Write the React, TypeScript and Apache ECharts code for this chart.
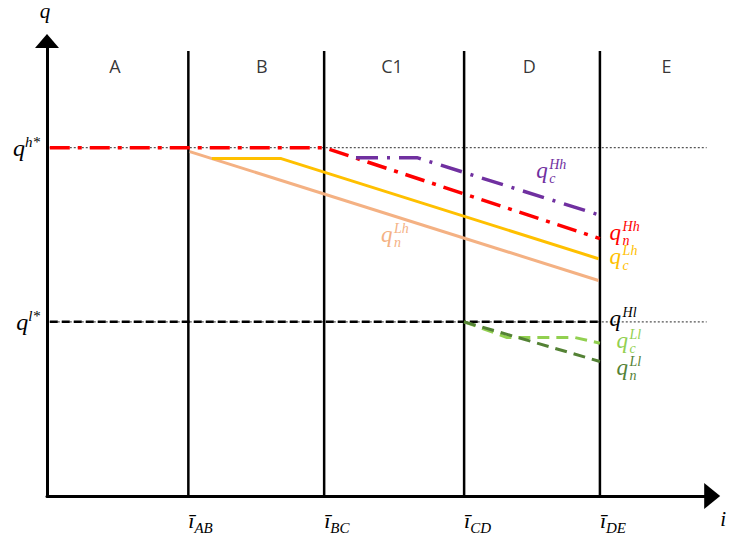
import { useEffect, useRef } from "react";
import * as echarts from "echarts";

// Switching points ī on the horizontal axis
const switchPoints = [1.02, 2.0, 3.01, 3.99];
const switchNames = ["AB", "BC", "CD", "DE"];

// Regimes between the switching points
const regionNames = ["A", "B", "C1", "D", "E"];
const regionX = [0.49, 1.55, 2.49, 3.48, 4.47];
const regionY = 9.88;

// Reference quantities on the vertical axis
const qHighStar = 8;
const qLowStar = 4;
const pathStart = 0.02;
const guideEnd = 4.76;
const boundaryTop = 10.22;

// Quantity paths
const qnHh = [[pathStart, qHighStar], [2.0, qHighStar], [3.99, 5.91]];
const qcHh = [[2.23, 7.77], [2.67, 7.77], [3.98, 6.46]];
const qcLh = [[1.19, 7.75], [1.69, 7.75], [3.98, 5.45]];
const qnLh = [[1.03, 7.91], [3.98, 4.95]];
const qHl = [[pathStart, qLowStar], [3.99, qLowStar]];
const qcLl = [[3.01, qLowStar], [3.32, 3.64], [3.81, 3.64], [3.99, 3.51]];
const qnLl = [[3.01, qLowStar], [3.99, 3.09]];

// Curve annotations: q with superscript / subscript
const curveLabels = [
  { x: 3.53, y: 7.48, sup: "Hh", sub: "c", color: "#7030A0" },
  { x: 4.06, y: 6.06, sup: "Hh", sub: "n", color: "#FF0000" },
  { x: 4.06, y: 5.5, sup: "Lh", sub: "c", color: "#FFC000" },
  { x: 2.41, y: 6.01, sup: "Lh", sub: "n", color: "#F4B183" },
  { x: 4.06, y: 4.07, sup: "Hl", sub: "", color: "#000000" },
  { x: 4.11, y: 3.58, sup: "Ll", sub: "c", color: "#92D050" },
  { x: 4.11, y: 2.96, sup: "Ll", sub: "n", color: "#548235" },
];

const X_MAX = 4.8;
const Y_MAX = 10.45;

const SERIF = '"Liberation Serif", "DejaVu Serif", serif';
const SANS = '"Open Sans", "Noto Sans", sans-serif';

function lineSeries(data: number[][], color: string, width: number, type: any, z = 3) {
  return {
    type: "line",
    data,
    symbol: "none",
    silent: true,
    z,
    lineStyle: { color, width, type, cap: "butt" },
  };
}

export default function App() {
  const ref = useRef<HTMLDivElement>(null);

  useEffect(() => {
    if (!ref.current) return;
    const chart = echarts.init(ref.current, null, { renderer: "svg" });

    const boundaries = switchPoints.map((x) =>
      lineSeries([[x, 0], [x, boundaryTop]], "#000000", 2.5, "solid", 2)
    );

    const option: any = {
      animation: false,
      backgroundColor: "#ffffff",
      grid: { left: 47, top: 40, width: 677, height: 456, containLabel: false },
      xAxis: {
        type: "value",
        min: 0,
        max: X_MAX,
        name: "i",
        nameLocation: "end",
        nameGap: 8,
        nameTextStyle: {
          fontFamily: SERIF,
          fontStyle: "italic",
          fontSize: 21,
          color: "#000",
          verticalAlign: "top",
          padding: [12, 0, 0, 0],
        },
        axisLine: {
          show: true,
          symbol: ["none", "triangle"],
          symbolSize: [26, 16],
          lineStyle: { color: "#000", width: 3 },
        },
        axisTick: { show: false },
        splitLine: { show: false },
        axisLabel: {
          customValues: switchPoints,
          margin: 13,
          align: "left",
          formatter: (v: number) => {
            const i = switchPoints.findIndex((p) => Math.abs(p - v) < 1e-6);
            return i < 0 ? "" : `{i|ī}{s|${switchNames[i]}}`;
          },
          rich: {
            i: {
              fontFamily: SERIF,
              fontStyle: "italic",
              fontSize: 22,
              color: "#000",
              lineHeight: 26,
              verticalAlign: "top",
            },
            s: {
              fontFamily: SERIF,
              fontStyle: "italic",
              fontSize: 15,
              color: "#000",
              verticalAlign: "bottom",
            },
          },
        },
      },
      yAxis: {
        type: "value",
        min: 0,
        max: Y_MAX,
        name: "q",
        nameLocation: "end",
        nameGap: 20,
        nameTextStyle: {
          fontFamily: SERIF,
          fontStyle: "italic",
          fontSize: 21,
          color: "#000",
          padding: [0, 4, 0, 0],
        },
        axisLine: {
          show: true,
          symbol: ["none", "triangle"],
          symbolSize: [24, 14],
          lineStyle: { color: "#000", width: 3 },
        },
        axisTick: { show: false },
        splitLine: { show: false },
        axisLabel: {
          customValues: [qLowStar, qHighStar],
          margin: 7,
          formatter: (v: number) =>
            v === qHighStar ? "{q|q}{s|h*}" : v === qLowStar ? "{q|q}{s|l*}" : "",
          rich: {
            q: {
              fontFamily: SERIF,
              fontStyle: "italic",
              fontSize: 24,
              color: "#000",
              lineHeight: 26,
            },
            s: {
              fontFamily: SERIF,
              fontStyle: "italic",
              fontSize: 15,
              color: "#000",
              verticalAlign: "top",
            },
          },
        },
      },
      series: [
        // dotted guides at the reference quantities
        lineSeries([[pathStart, qHighStar], [guideEnd, qHighStar]], "#555555", 1.2, [2, 2], 1),
        lineSeries([[pathStart, qLowStar], [guideEnd, qLowStar]], "#555555", 1.2, [2, 2], 1),
        ...boundaries,
        lineSeries(qnLh, "#F4B183", 3, "solid"),
        lineSeries(qcLh, "#FFC000", 3, "solid"),
        lineSeries(qnHh, "#FF0000", 3.5, [20, 8, 4, 8], 4),
        lineSeries(qcHh, "#7030A0", 3.5, [22, 9, 3, 9], 4),
        lineSeries(qHl, "#000000", 2.5, [8, 4], 3),
        lineSeries(qcLl, "#92D050", 3, [12, 7], 4),
        lineSeries(qnLl, "#548235", 3, [12, 7], 4),
        {
          type: "scatter",
          data: regionNames.map((n, i) => ({ name: n, value: [regionX[i], regionY] })),
          symbolSize: 1,
          itemStyle: { color: "rgba(0,0,0,0)" },
          silent: true,
          label: {
            show: true,
            position: "inside",
            formatter: "{b}",
            color: "#000",
            fontFamily: SANS,
            fontSize: 18,
          },
        },
        {
          type: "custom",
          coordinateSystem: "cartesian2d",
          silent: true,
          z: 10,
          data: curveLabels.map((l) => [l.x, l.y]),
          renderItem: (params: any, api: any) => {
            const l = curveLabels[params.dataIndex];
            const [px, py] = api.coord([api.value(0), api.value(1)]);
            const children: any[] = [
              {
                type: "text",
                x: px,
                y: py,
                style: {
                  text: "q",
                  fill: l.color,
                  font: `italic 23px ${SERIF}`,
                  align: "left",
                  verticalAlign: "middle",
                  textAlign: "left",
                  textVerticalAlign: "middle",
                },
              },
              {
                type: "text",
                x: px + 13,
                y: py + 1,
                style: {
                  text: l.sup,
                  fill: l.color,
                  font: `italic 14px ${SERIF}`,
                  align: "left",
                  verticalAlign: "bottom",
                  textAlign: "left",
                  textVerticalAlign: "bottom",
                },
              },
            ];
            if (l.sub) {
              children.push({
                type: "text",
                x: px + 13,
                y: py + 1.5,
                style: {
                  text: l.sub,
                  fill: l.color,
                  font: `italic 14px ${SERIF}`,
                  align: "left",
                  verticalAlign: "top",
                  textAlign: "left",
                  textVerticalAlign: "top",
                },
              });
            }
            return { type: "group", children };
          },
        },
      ],
    };

    chart.setOption(option);
    return () => chart.dispose();
  }, []);

  return (
    <div
      ref={ref}
      style={{ position: "fixed", left: 0, top: 0, width: 729, height: 543 }}
    />
  );
}
